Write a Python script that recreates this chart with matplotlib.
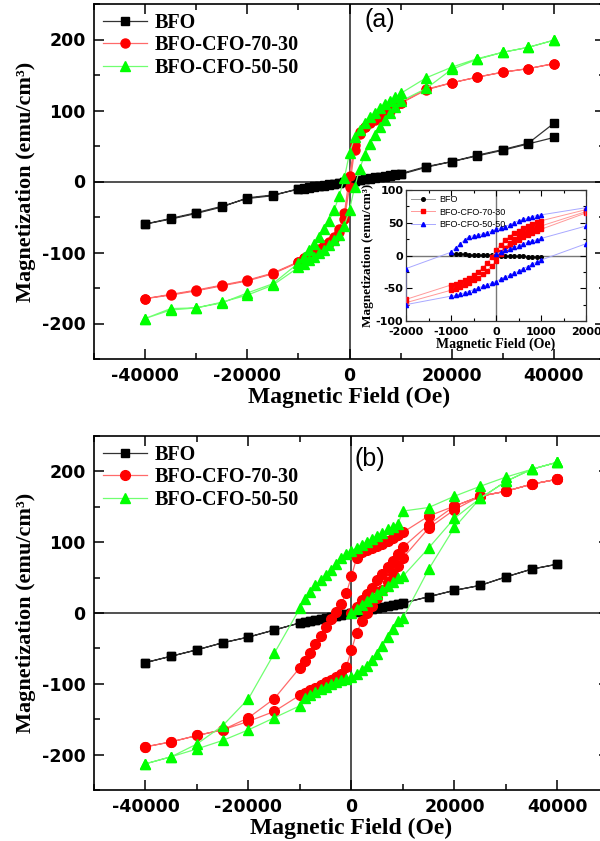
import matplotlib
matplotlib.use("Agg")
import matplotlib.pyplot as plt
from matplotlib.ticker import MultipleLocator

# ── field grids (Oe) ─────────────────────────────────────────────────────
H_DOWN = [40000, 35000, 30000, 25000, 20000, 15000, 10000, 9000, 8000, 7000,
          6000, 5000, 4000, 3000, 2000, 1000, 0, -1000, -2000, -3000, -4000,
          -5000, -6000, -7000, -8000, -9000, -10000, -15000, -20000, -25000,
          -30000, -35000, -40000]
H_UP = [-40000, -35000, -30000, -25000, -20000, -15000, -10000, -9000, -8000,
        -7000, -6000, -5000, -4000, -3000, -2000, -1000, 0, 1000, 2000, 3000,
        4000, 5000, 6000, 7000, 8000, 9000, 10000, 15000, 20000, 25000, 30000,
        35000, 40000]
H_VIRGIN = [0, 1000, 2000, 3000, 4000, 5000, 6000, 7000, 8000, 9000, 10000,
            15000, 20000, 25000, 30000, 35000, 40000]

# ── panel (a) magnetization (emu/cm3) ────────────────────────────────────
BFO_A_DOWN = [82, 54, 45, 37, 28, 21, 11, 10, 9, 8, 7, 6, 5, 3, 2, 1, 0, -1,
              -2, -3, -4, -5, -6, -7, -8, -9, -10, -20, -24, -35, -44, -52, -60]
BFO_A_UP = [-60, -53, -45, -36, -23, -19, -11, -10, -9, -8, -7, -6, -5, -4, -2,
            -1, 0, 1, 2, 3, 4, 5, 6, 7, 8, 9, 10, 20, 28, 36, 44, 53, 62]
RED_A_DOWN = [166, 159, 154, 147, 139, 130, 111, 106, 100, 96, 91, 87, 82, 77,
              70, 52, 8, -45, -67, -78, -85, -91, -96, -100, -104, -108, -113,
              -129, -139, -146, -153, -159, -165]
RED_A_UP = [-165, -160, -154, -147, -140, -130, -114, -108, -103, -99, -95, -90,
            -86, -81, -71, -53, -8, 45, 67, 77, 84, 89, 94, 98, 102, 106, 110,
            129, 139, 147, 154, 159, 166]
GREEN_A_DOWN = [199, 189, 182, 173, 161, 146, 124, 119, 114, 109, 103, 97, 91,
                83, 73, 62, 40, 5, -20, -40, -55, -67, -78, -88, -97, -106,
                -115, -144, -157, -171, -178, -179, -193]
GREEN_A_UP = [-193, -181, -178, -170, -160, -146, -121, -116, -111, -106, -101,
              -96, -90, -83, -75, -62, -40, -8, 18, 38, 53, 66, 77, 87, 96, 105,
              113, 131, 158, 172, 182, 189, 199]

# ── panel (b) magnetization (emu/cm3) ────────────────────────────────────
BFO_B_DOWN = [69, 62, 51, 39, 32, 23, 14, 13, 11, 10, 8, 7, 6, 4, 3, 1, 0, -1,
              -3, -4, -5, -7, -8, -10, -11, -13, -14, -24, -34, -42, -52, -61, -70]
BFO_B_UP = [-70, -61, -52, -42, -34, -24, -14, -13, -11, -10, -8, -7, -5, -4,
            -3, -1, 0, 1, 3, 4, 6, 7, 8, 10, 11, 13, 14, 23, 32, 39, 51, 62, 69]
RED_B_VIRGIN = [0, 9, 18, 27, 36, 46, 55, 65, 74, 84, 93, 125, 151, 165, 172,
                182, 189]
RED_B_DOWN = [189, 182, 172, 165, 151, 137, 114, 110, 106, 102, 98, 95, 92, 89,
              86, 78, 52, 28, 13, 2, -8, -20, -32, -44, -57, -68, -77, -121,
              -148, -165, -173, -182, -189]
RED_B_UP = [-189, -182, -173, -165, -153, -139, -116, -113, -109, -106, -102,
            -98, -95, -91, -86, -76, -52, -28, -12, 0, 10, 21, 32, 44, 55, 67,
            78, 120, 146, 165, 172, 182, 189]
GREEN_B_VIRGIN = [0, 5, 11, 17, 22, 27, 33, 38, 44, 49, 52, 92, 134, 162, 186,
                  203, 213]
GREEN_B_DOWN = [213, 203, 192, 179, 165, 149, 144, 126, 122, 118, 113, 109, 105,
                100, 96, 92, 88, 83, 77, 69, 61, 53, 46, 39, 30, 20, 7, -57,
                -121, -159, -185, -203, -213]
GREEN_B_UP = [-213, -203, -192, -180, -165, -148, -131, -120, -116, -112, -108,
              -104, -100, -97, -95, -93, -90, -86, -81, -75, -67, -58, -46, -34,
              -22, -12, -7, 62, 121, 162, 186, 203, 213]

# ── inset of panel (a): low-field loops ──────────────────────────────────
INS_H_BFO = [-1000, -900, -800, -700, -600, -500, -400, -300, -200, -100, 0,
             100, 200, 300, 400, 500, 600, 700, 800, 900, 1000]
INS_BFO = [2.5, 2.3, 2.0, 1.8, 1.5, 1.3, 1.0, 0.8, 0.5, 0.3, 0.0, -0.3, -0.5,
           -0.8, -1.0, -1.3, -1.5, -1.8, -2.0, -2.3, -2.5]
INS_H_VIRGIN = [0, 100, 200, 300, 400, 500, 600, 700, 800, 900, 1000, 2000]
INS_H_DOWN = [2000, 1000, 900, 800, 700, 600, 500, 400, 300, 200, 100, 0, -100,
              -200, -300, -400, -500, -600, -700, -800, -900, -1000, -2000]
INS_H_UP = [-2000, -1000, -900, -800, -700, -600, -500, -400, -300, -200, -100,
            0, 100, 200, 300, 400, 500, 600, 700, 800, 900, 1000, 2000]
INS_RED_VIRGIN = [0, 6, 11, 16, 20, 24, 28, 32, 35, 38, 40, 65]
INS_RED_DOWN = [70, 53, 51, 48, 45, 42, 38, 34, 29, 23, 16, 9, -3, -12, -19,
                -25, -30, -34, -38, -41, -43, -45, -67]
INS_RED_UP = [-72, -53, -51, -48, -45, -42, -38, -34, -29, -23, -16, -9, 3, 12,
              19, 25, 30, 34, 38, 41, 43, 45, 67]
INS_BLUE_VIRGIN = [2, 5, 8, 10, 13, 15, 18, 20, 22, 24, 26, 45]
INS_BLUE_DOWN = [73, 62, 61, 59, 57, 55, 53, 50, 47, 44, 42, 40, 37, 35, 33, 31,
                 30, 29, 24, 17, 12, 5, -20]
INS_BLUE_UP = [-75, -62, -61, -59, -57, -55, -52, -50, -47, -45, -42, -40, -36,
               -33, -30, -27, -24, -20, -17, -13, -10, -7, 18]

LABELS = ["BFO", "BFO-CFO-70-30", "BFO-CFO-50-50"]

plt.rcParams["font.family"] = ["DejaVu Sans"]
plt.rcParams["font.weight"] = "bold"
plt.rcParams["axes.unicode_minus"] = False

SERIF = ["Liberation Serif", "DejaVu Serif"]
W, H = 600, 841
fig = plt.figure(figsize=(W / 100, H / 100), dpi=100)


def px_axes(left, top, right, bottom):
    return fig.add_axes([left / W, 1 - bottom / H, (right - left) / W,
                         (bottom - top) / H])


def style_main(ax):
    ax.set_xlim(-50000, 50000)
    ax.set_ylim(-250, 250)
    ax.xaxis.set_major_locator(MultipleLocator(20000))
    ax.xaxis.set_minor_locator(MultipleLocator(10000))
    ax.yaxis.set_major_locator(MultipleLocator(100))
    ax.yaxis.set_minor_locator(MultipleLocator(50))
    ax.tick_params(which="both", direction="in", top=True, right=True,
                   width=1.1, labelsize=12.5)
    ax.tick_params(which="major", length=7, pad=6)
    ax.tick_params(which="minor", length=4)
    for s in ax.spines.values():
        s.set_linewidth(1.2)
    ax.axhline(0, color="#222222", lw=1.1, zorder=1)
    ax.axvline(0, color="#222222", lw=1.1, zorder=1)
    ax.set_xlabel("Magnetic Field (Oe)", family=SERIF, fontsize=17,
                  fontweight="bold", labelpad=1)
    ax.set_ylabel("Magnetization (emu/cm³)", family=SERIF, fontsize=16,
                  fontweight="bold", labelpad=4)


def draw_series(ax, h, m, color, lcolor, marker, ms, label, z):
    ax.plot(h, m, color=lcolor, lw=0.9, marker=marker, ms=ms, mfc=color,
            mec=color, label=label, zorder=z)


def main_legend(ax):
    ax.legend(loc="upper left", frameon=False, prop={"family": SERIF,
              "weight": "bold", "size": 14.5}, handlelength=2.2,
              handletextpad=0.35, labelspacing=0.12, borderaxespad=0.0,
              borderpad=0.45)


# ── panel (a) ────────────────────────────────────────────────────────────
ax_a = px_axes(94, 4, 605, 359)
style_main(ax_a)
draw_series(ax_a, H_DOWN + H_UP, BFO_A_DOWN + BFO_A_UP, "black", "#333333",
            "s", 6, LABELS[0], 3)
draw_series(ax_a, H_DOWN + H_UP, RED_A_DOWN + RED_A_UP, "#ff0000", "#ff6a6a",
            "o", 6.5, LABELS[1], 4)
draw_series(ax_a, H_DOWN + H_UP, GREEN_A_DOWN + GREEN_A_UP, "#00ff00",
            "#70ff70", "^", 7.5, LABELS[2], 5)
main_legend(ax_a)
ax_a.text(0.53, 0.99, "(a)", transform=ax_a.transAxes, ha="left", va="top",
          family=["Liberation Sans"], fontweight="normal", fontsize=18)

# inset
ax_in = px_axes(406, 190, 586, 321)
ax_in.set_xlim(-2000, 2000)
ax_in.set_ylim(-100, 100)
ax_in.xaxis.set_major_locator(MultipleLocator(1000))
ax_in.xaxis.set_minor_locator(MultipleLocator(500))
ax_in.yaxis.set_major_locator(MultipleLocator(50))
ax_in.yaxis.set_minor_locator(MultipleLocator(25))
ax_in.tick_params(which="both", direction="in", top=True, right=True,
                  width=0.8, labelsize=8, pad=2)
ax_in.tick_params(axis="x", which="major", pad=4)
ax_in.tick_params(which="major", length=4)
ax_in.tick_params(which="minor", length=2)
for s in ax_in.spines.values():
    s.set_linewidth(0.9)
    s.set_color("#333333")
ax_in.axhline(0, color="#777777", lw=1, zorder=1)
ax_in.axvline(0, color="#777777", lw=1, zorder=1)
ax_in.plot(INS_H_BFO, INS_BFO, color="#999999", lw=0.7, marker="o", ms=2.6,
           mfc="black", mec="black", label=LABELS[0], zorder=3)
ax_in.plot(INS_H_VIRGIN + INS_H_DOWN + INS_H_UP,
           INS_RED_VIRGIN + INS_RED_DOWN + INS_RED_UP, color="#ff9999",
           lw=0.7, marker="s", ms=2.6, mfc="#ff0000", mec="#ff0000",
           label=LABELS[1], zorder=4)
ax_in.plot(INS_H_VIRGIN + INS_H_DOWN + INS_H_UP,
           INS_BLUE_VIRGIN + INS_BLUE_DOWN + INS_BLUE_UP, color="#a8a8ff",
           lw=0.7, marker="^", ms=3, mfc="#0000ff", mec="#0000ff",
           label=LABELS[2], zorder=5)
ax_in.legend(loc="upper left", frameon=False,
             prop={"family": "Liberation Sans", "weight": "normal",
                   "size": 6.5}, handlelength=2.6, handletextpad=0.5,
             labelspacing=0.35, borderaxespad=0.2)
ax_in.set_xlabel("Magnetic Field (Oe)", family=SERIF, fontsize=10,
                 fontweight="bold", labelpad=1)
ax_in.set_ylabel("Magnetization (emu/cm³)", family=SERIF, fontsize=9.5,
                 fontweight="bold", labelpad=1)

# ── panel (b) ────────────────────────────────────────────────────────────
ax_b = px_axes(94, 436, 609, 790)
style_main(ax_b)
draw_series(ax_b, H_DOWN + H_UP, BFO_B_DOWN + BFO_B_UP, "black", "#333333",
            "s", 6, LABELS[0], 3)
draw_series(ax_b, H_VIRGIN + H_DOWN + H_UP,
            RED_B_VIRGIN + RED_B_DOWN + RED_B_UP, "#ff0000", "#ff6a6a",
            "o", 7, LABELS[1], 4)
draw_series(ax_b, H_VIRGIN + H_DOWN + H_UP,
            GREEN_B_VIRGIN + GREEN_B_DOWN + GREEN_B_UP, "#00ff00", "#70ff70",
            "^", 7.5, LABELS[2], 5)
main_legend(ax_b)
ax_b.text(0.505, 0.97, "(b)", transform=ax_b.transAxes, ha="left", va="top",
          family=["Liberation Sans"], fontweight="normal", fontsize=18)

fig.savefig("out.png", dpi=100)
